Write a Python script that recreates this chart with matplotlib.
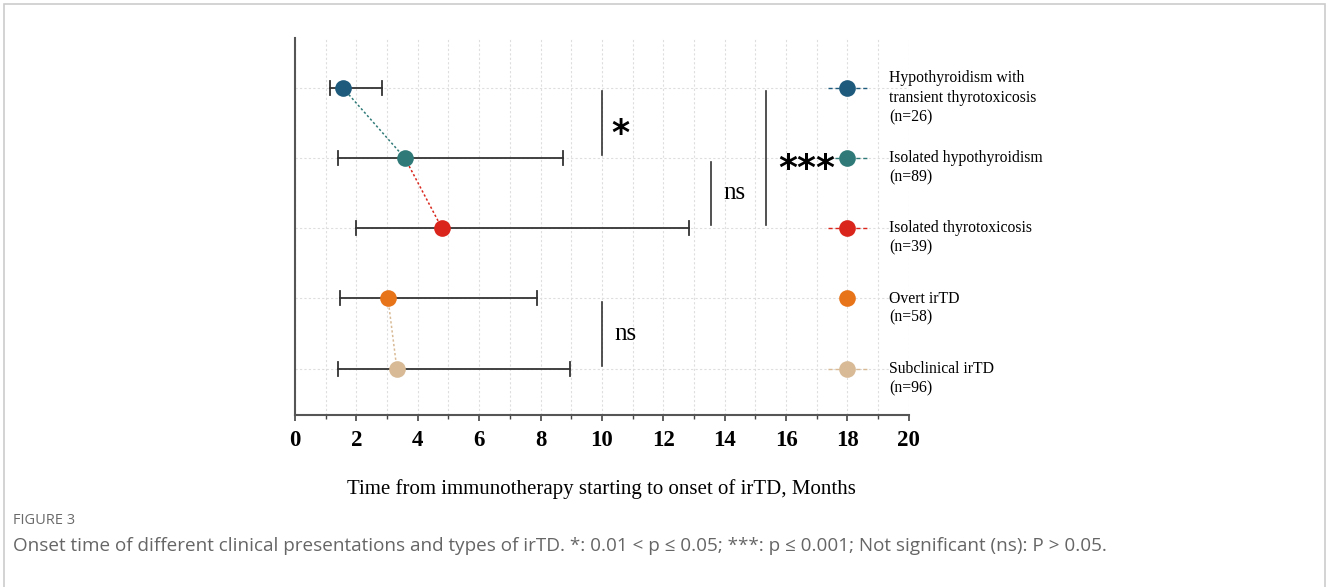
import matplotlib
matplotlib.use("Agg")
import matplotlib.pyplot as plt
from matplotlib.patches import Rectangle

# onset time (months): median with lower / upper range, one row per group
groups = ["Hypothyroidism with\ntransient thyrotoxicosis\n(n=26)",
          "Isolated hypothyroidism\n(n=89)",
          "Isolated thyrotoxicosis\n(n=39)",
          "Overt irTD\n(n=58)",
          "Subclinical irTD\n(n=96)"]
rows = [5, 4, 3, 2, 1]
median = [1.56, 3.58, 4.79, 3.03, 3.32]
lower = [1.14, 1.40, 1.99, 1.47, 1.40]
upper = [2.83, 8.73, 12.83, 7.88, 8.96]
colors = ["#1d5a7c", "#2f7a78", "#d9251b", "#e8741a", "#d8bb96"]

# pairwise comparisons: (row a, row b, bracket x, label)
comparisons = [(5, 4, 10.0, "*"),
               (4, 3, 13.55, "ns"),
               (5, 3, 15.35, "***"),
               (2, 1, 10.0, "ns")]
# connected pairs in the main panel
links = [(0, 1), (1, 2), (3, 4)]

serif = "Liberation Serif"

fig = plt.figure(figsize=(13.28, 5.87), dpi=100)
ax = fig.add_axes([0.2221, 0.2930, 0.4623, 0.6423])

# error bars and medians
for i in range(len(rows)):
    ax.plot([lower[i], upper[i]], [rows[i], rows[i]], color="#333333", lw=1.3, zorder=2)
    for xe in (lower[i], upper[i]):
        ax.plot([xe, xe], [rows[i] - 0.1, rows[i] + 0.1], color="#333333", lw=1.3, zorder=2)

for a, b in links:
    ax.plot([median[a], median[b]], [rows[a], rows[b]], color=colors[b], lw=1.1,
            ls=(0, (1.5, 1.5)), zorder=3)

for i in range(len(rows)):
    ax.plot(median[i], rows[i], "o", color=colors[i], ms=12, mec="none", zorder=4)

# key markers on the right
for i in range(len(rows)):
    if i != 3:
        ax.plot([17.35, 18.65], [rows[i], rows[i]], color=colors[i], lw=1.0,
                ls=(0, (3, 2)), zorder=3)
    ax.plot(18, rows[i], "o", color=colors[i], ms=12, mec="none", zorder=4)
    ax.annotate(groups[i], xy=(19.35, rows[i]), xytext=(0, -7), textcoords="offset points",
                ha="left", va="center", fontsize=11.3, family=serif, linespacing=1.28,
                annotation_clip=False)

# significance brackets
for a, b, xb, lab in comparisons:
    ax.plot([xb, xb], [b + 0.04, a - 0.05], color="#333333", lw=1.2)
    ymid = (a + b) / 2
    if lab == "ns":
        ax.text(xb + 0.4, ymid, lab, ha="left", va="center", fontsize=18, family=serif)
    elif lab == "*":
        ax.annotate(lab, xy=(xb + 0.3, a - 0.53), xytext=(0, -14), textcoords="offset points",
                    ha="left", va="baseline", fontsize=25, fontweight="bold",
                    family="DejaVu Sans")
    else:
        ax.annotate(lab, xy=(xb + 0.38, b + 1.0), xytext=(0, -15), textcoords="offset points",
                    ha="left", va="baseline", fontsize=26, fontweight="bold",
                    family="DejaVu Sans")

ax.set_xlim(0, 20)
ax.set_ylim(0.34, 5.71)
ax.set_xticks(range(0, 21, 2))
ax.set_xticks(range(1, 20, 2), minor=True)
ax.set_yticks(rows)
ax.tick_params(axis="y", length=0, labelleft=False)
ax.tick_params(axis="x", which="major", direction="out", length=4, width=1.2,
               color="#444444", pad=7)
ax.tick_params(axis="x", which="minor", direction="out", length=3, width=1.0, color="#444444")
for lbl in ax.get_xticklabels():
    lbl.set_fontfamily(serif)
    lbl.set_fontweight("bold")
    lbl.set_fontsize(16.5)

ax.grid(True, which="both", axis="x", color="#dedede", ls=(0, (2, 2)), lw=0.8)
ax.grid(True, which="major", axis="y", color="#dedede", ls=(0, (2, 2)), lw=0.8)
ax.set_axisbelow(True)

for side in ("top", "right"):
    ax.spines[side].set_visible(False)
for side in ("left", "bottom"):
    ax.spines[side].set_color("#555555")
    ax.spines[side].set_linewidth(1.5)

ax.set_xlabel("Time from immunotherapy starting to onset of irTD, Months",
              family=serif, fontsize=15, labelpad=20)

# caption
fig.text(13 / 1328, 1 - 521 / 587, "FIGURE 3", ha="left", va="center",
         fontsize=10.5, color="#6a6a6a", family=["Open Sans", "DejaVu Sans"])
fig.text(13 / 1328, 1 - 546 / 587,
         "Onset time of different clinical presentations and types of irTD. "
         "*: 0.01 < p ≤ 0.05; ***: p ≤ 0.001; Not significant (ns): P > 0.05.",
         ha="left", va="center", fontsize=13.6, color="#666666",
         family=["Open Sans", "DejaVu Sans"])

fig.patches.append(Rectangle((4 / 1328, -0.01), 1321 / 1328, 1 - 4 / 587 + 0.01,
                             transform=fig.transFigure, fill=False,
                             edgecolor="#cccccc", lw=1.2))

fig.savefig("out.png", dpi=100)
